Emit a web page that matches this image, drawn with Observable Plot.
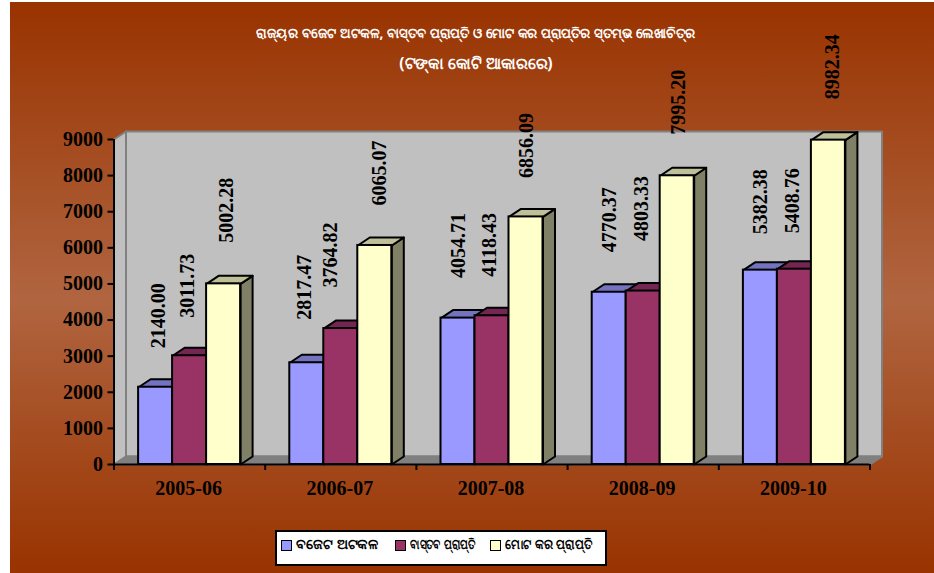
<!DOCTYPE html>
<html><head><meta charset="utf-8">
<script src="https://cdn.jsdelivr.net/npm/d3@7"></script>
<script src="https://cdn.jsdelivr.net/npm/@observablehq/plot@0.6"></script>
<style>
html,body{margin:0;padding:0;background:#fff;width:934px;height:573px;overflow:hidden}
#page{position:absolute;left:10px;top:2px;width:924px;height:571px;background:linear-gradient(180deg,#993300 0%,#b06540 52%,#993300 100%);}
#chart{position:absolute;left:0;top:0}
#chart svg{background:transparent;overflow:visible}
.t{position:absolute;left:0;width:934px;text-align:center;color:#fff;font-family:"Noto Sans",sans-serif;font-weight:bold;white-space:nowrap}
#legend{position:absolute;left:274.5px;top:530px;width:328px;height:32px;background:#fff;border:2px solid #000;font:bold 13px "Noto Sans",sans-serif;color:#000}
.k{position:absolute;top:8px;width:9px;height:9px;border:1px solid #000}
.l{position:absolute;top:3px;white-space:nowrap;transform-origin:left center}
</style></head><body>
<div id="page">
<div class="t" style="top:21px;left:-1.5px;font-size:14px;transform:scaleX(.952)">ରାଜ୍ୟର ବଜେଟ ଅଟକଳ, ବାସ୍ତବ ପ୍ରାପ୍ତି ଓ ମୋଟ କର ପ୍ରାପ୍ତିର ସ୍ତମ୍ଭ ଲେଖାଚିତ୍ର</div>
<div class="t" style="top:50px;left:-1px;font-size:16px;transform:scaleX(.975)">(ଟଙ୍କା କୋଟି ଆକାରରେ)</div>
</div>
<div id="chart"></div>
<div id="legend"></div>
<script>
const years=["2005-06","2006-07","2007-08","2008-09","2009-10"];
const budget=[2140.00,2817.47,4054.71,4770.37,5382.38];
const actual=[3011.73,3764.82,4118.43,4803.33,5408.76];
const total=[5002.28,6065.07,6856.09,7995.20,8982.34];
const seriesNames=["ବଜେଟ ଅଟକଳ","ବାସ୍ତବ ପ୍ରାପ୍ତି","ମୋଟ କର ପ୍ରାପ୍ତି"];
const yTicks=[0,1000,2000,3000,4000,5000,6000,7000,8000,9000];

// styling: label nudges in px, and the 3-D look
const fronts=["#9999ff","#993366","#ffffcc"];
const tops=["#7373bf","#732652","#bfbf99"];
const sides=["#4d4d80","#4d1a33","#808066"];
const liftPx=[[39,38,41],[43,41,40],[40,39,39],[40,50,41],[36,36,41]];
const shiftPx=[[3,-2,3],[-2,-10,5],[1,-2,1],[0,-2,1],[0,-2,4]];
const keyScale=[1.09,.81,.92];

const barW=34/151.2, depthX=12/151.2, depthY=8/0.0361;
const offsets=[-1.5,-.5,.5];
const all=[budget,actual,total];
const sideFace=(x0,v)=>[[x0,0],[x0+depthX,depthY],[x0+depthX,v+depthY],[x0,v],[x0,0]];
const topFace=(x0,x1,v)=>[[x0,v],[x0+depthX,v+depthY],[x1+depthX,v+depthY],[x1,v],[x0,v]];
const tag=(pts,id)=>pts.map(([x,y])=>({x,y,id}));
const barMarks=all.flatMap((vals,s)=>{
  const rows=vals.map((v,i)=>({v,x1:i+.5+offsets[s]*barW,x2:i+.5+(offsets[s]+1)*barW}));
  return [
    Plot.line(rows.flatMap((r,i)=>tag(sideFace(r.x2,r.v),i)),{x:"x",y:"y",z:"id",fill:sides[s],stroke:"#000",strokeWidth:2,strokeLinejoin:"round"}),
    Plot.line(rows.flatMap((r,i)=>tag(topFace(r.x1,r.x2,r.v),i)),{x:"x",y:"y",z:"id",fill:tops[s],stroke:"#000",strokeWidth:2,strokeLinejoin:"round"}),
    Plot.rect(rows,{x1:"x1",x2:"x2",y1:0,y2:"v",fill:fronts[s],stroke:"#000",strokeWidth:2})
  ];
});
const labelMarks=all.flatMap((vals,s)=>vals.map((v,i)=>
  Plot.text([{x:i+.5+(offsets[s]+.5)*barW,v}],{x:"x",y:"v",text:d=>d.v.toFixed(2),rotate:-90,textAnchor:"start",
    dx:shiftPx[i][s],dy:-liftPx[i][s],fontSize:20,fontWeight:"bold",fontFamily:"'Liberation Serif',serif",fill:"#000"})));
const wall=[[depthX,depthY],[5+depthX,depthY],[5+depthX,9000+depthY],[depthX,9000+depthY],[depthX,depthY]];
const leftWall=[[0,0],[depthX,depthY],[depthX,9000+depthY],[0,9000],[0,0]];
const floor=[[0,0],[depthX,depthY],[5+depthX,depthY],[5,0],[0,0]];
const face=(pts,fill,stroke)=>Plot.line(tag(pts,0),{x:"x",y:"y",fill,stroke,strokeWidth:2});

document.getElementById("chart").append(Plot.plot({width:934,height:573,marginLeft:113.5,marginRight:64.5,marginTop:139,marginBottom:109,
style:{background:"transparent",overflow:"visible"},
x:{domain:[0,5]},y:{domain:[0,9000]},
marks:[
  face(wall,"#c0c0c0","#808080"),
  face(leftWall,"#c0c0c0","#808080"),
  face(floor,"#808080","#808080"),
  Plot.axisX({ticks:[0,1,2,3,4,5],tickSize:6,stroke:"#000",strokeWidth:2,tickFormat:()=>"" }),
  Plot.axisX({ticks:years.map((_,i)=>i+.5),tickSize:0,tickPadding:16,tickFormat:x=>years[x-.5],fontSize:20,fontWeight:"bold",fontFamily:"'Liberation Serif',serif",fill:"#000",label:null,dx:-1}),
  Plot.axisY({ticks:yTicks,tickSize:6,tickPadding:5,stroke:"#000",strokeWidth:2,tickFormat:d=>String(d),fontSize:20,fontWeight:"bold",fontFamily:"'Liberation Serif',serif",fill:"#000",label:null}),
  ...barMarks,
  Plot.ruleY([0],{x1:0,x2:5,stroke:"#000",strokeWidth:2}),
  Plot.ruleX([0],{y1:0,y2:9000,stroke:"#000",strokeWidth:2}),
  ...labelMarks
]}));

const keyLeft=[4,118.5,213], textLeft=[19,133,228];
const leg=document.getElementById("legend");
seriesNames.forEach((n,i)=>{
  const k=document.createElement("div");k.className="k";k.style.left=keyLeft[i]+"px";k.style.background=fronts[i];leg.append(k);
  const l=document.createElement("div");l.className="l";l.style.left=textLeft[i]+"px";l.style.transform=`scaleX(${keyScale[i]})`;l.textContent=n;leg.append(l);
});
</script></body></html>
